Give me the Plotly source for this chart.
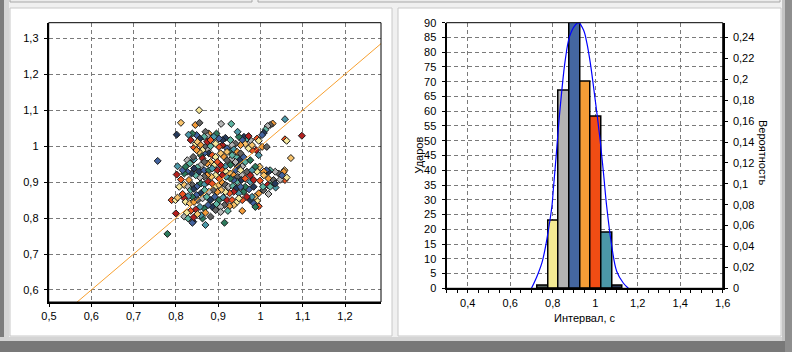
import plotly.graph_objects as go

W, H = 792, 352

# ---------------- data ----------------
# Poincare plot: RR(n) vs RR(n+1), seconds
RR_N = [0.855, 0.812, 0.846, 0.856, 0.907, 0.931, 0.802, 0.757, 0.780, 1.058,
        1.098, 1.058, 1.062, 1.072, 1.029, 1.023, 1.017, 1.012, 1.008, 1.004,
        0.915, 0.870, 0.800, 0.790, 0.799, 0.804, 0.957, 0.882, 0.820, 0.829,
        0.841, 0.839, 0.863, 0.859, 0.842, 1.058, 1.062, 1.057, 1.055, 1.043,
        1.035, 1.023, 1.019, 1.014, 1.027, 1.036, 1.017, 0.996, 0.992, 0.987,
        0.996, 1.007, 1.019, 1.006, 0.984, 0.973, 0.964, 0.976, 0.984, 0.999,
        0.992, 0.998, 1.008, 0.968, 0.957, 0.964, 0.946, 0.941, 0.976, 0.996,
        0.990, 0.980, 0.972, 0.980, 1.004, 1.015, 0.976, 0.968, 0.961, 0.957,
        0.949, 0.946, 0.972, 0.992, 0.996, 0.964, 0.953, 0.941, 0.933, 0.929,
        0.917, 0.921, 0.929, 0.937, 0.910, 0.902, 0.894, 0.886, 0.878, 0.870,
        0.874, 0.867, 0.857, 0.849, 0.839, 0.830, 0.835, 0.843, 0.847, 0.851,
        0.859, 0.870, 0.876, 0.882, 0.878, 0.867, 0.859, 0.843, 0.863, 0.886,
        0.894, 0.906, 0.914, 0.921, 0.933, 0.943, 0.951, 0.960, 0.929, 0.917,
        0.906, 0.898, 0.890, 0.882, 0.874, 0.867, 0.859, 0.851, 0.855, 0.867,
        0.878, 0.886, 0.898, 0.910, 0.919, 0.929, 0.937, 0.946, 0.957, 0.945,
        0.955, 0.937, 0.929, 0.919, 0.910, 0.902, 0.894, 0.884, 0.874, 0.867,
        0.857, 0.847, 0.837, 0.827, 0.820, 0.804, 0.802, 0.812, 0.808, 0.820,
        0.831, 0.839, 0.829, 0.835, 0.843, 0.851, 0.859, 0.868, 0.876, 0.886,
        0.894, 0.902, 0.910, 0.917, 0.925, 0.935, 0.943, 0.953, 0.960, 0.949,
        0.937, 0.927, 0.917, 0.907, 0.898, 0.888, 0.878, 0.868, 0.859, 0.849,
        0.839, 0.829, 0.820, 0.816, 0.823, 0.833, 0.843, 0.852, 0.863, 0.873,
        0.882, 0.892, 0.902, 0.912, 0.921, 0.933, 0.943, 0.937, 0.927, 0.915,
        0.906, 0.896, 0.886, 0.876, 0.867, 0.857, 0.847, 0.835, 0.826, 0.851,
        0.870, 0.894, 0.906, 0.923, 0.976, 0.984, 0.988, 0.980, 0.968, 0.957,
        0.949, 1.008, 1.019, 1.031, 1.047, 1.023, 1.035, 1.051, 0.988, 0.980,
        0.976, 0.964, 0.953, 0.921, 0.945, 0.953, 0.941, 0.933, 0.910, 0.902,
        0.896, 0.890, 0.874, 0.882, 0.863, 0.855, 0.849, 0.841, 0.827, 0.833,
        0.843, 0.816, 0.823]
RR_N1 = [1.100, 1.065, 1.059, 1.065, 1.062, 1.062, 1.032, 0.959, 0.756, 1.075,
         1.029, 1.019, 1.015, 0.967, 1.063, 1.059, 1.056, 1.046, 1.037, 1.031,
         0.787, 0.781, 0.813, 0.850, 0.850, 0.857, 0.820, 0.804, 0.804, 0.799,
         0.790, 0.787, 0.799, 0.808, 0.802, 0.906, 0.913, 0.933, 0.929, 0.924,
         0.929, 0.933, 0.929, 0.933, 0.894, 0.885, 0.892, 0.833, 0.848, 0.859,
         0.869, 0.878, 0.867, 0.887, 0.887, 0.880, 0.887, 0.901, 0.906, 0.904,
         0.929, 0.943, 0.929, 0.929, 0.944, 0.956, 0.944, 0.933, 0.961, 0.975,
         0.989, 0.989, 0.994, 1.003, 0.998, 0.998, 1.017, 1.021, 1.026, 1.017,
         1.026, 1.040, 1.028, 1.021, 1.015, 1.006, 1.003, 1.007, 1.003, 1.017,
         1.023, 0.994, 0.984, 0.991, 1.003, 0.998, 1.007, 1.021, 1.035, 1.040,
         1.028, 1.026, 1.021, 1.031, 1.035, 1.032, 1.017, 0.996, 1.007, 1.012,
         1.003, 0.998, 0.989, 1.000, 0.980, 0.980, 0.975, 0.963, 0.966, 0.975,
         0.970, 0.980, 0.970, 0.961, 0.966, 0.970, 0.961, 0.970, 0.948, 0.944,
         0.947, 0.956, 0.947, 0.956, 0.952, 0.956, 0.947, 0.941, 0.929, 0.933,
         0.933, 0.938, 0.933, 0.933, 0.929, 0.924, 0.919, 0.915, 0.919, 0.901,
         0.906, 0.906, 0.910, 0.915, 0.919, 0.910, 0.919, 0.915, 0.919, 0.915,
         0.913, 0.919, 0.924, 0.929, 0.924, 0.944, 0.921, 0.907, 0.887, 0.892,
         0.906, 0.892, 0.887, 0.878, 0.881, 0.889, 0.896, 0.894, 0.901, 0.896,
         0.887, 0.892, 0.898, 0.892, 0.887, 0.889, 0.883, 0.887, 0.873, 0.869,
         0.873, 0.869, 0.873, 0.878, 0.873, 0.878, 0.873, 0.878, 0.869, 0.864,
         0.859, 0.861, 0.855, 0.867, 0.845, 0.841, 0.845, 0.850, 0.855, 0.859,
         0.850, 0.859, 0.850, 0.857, 0.850, 0.850, 0.843, 0.836, 0.833, 0.836,
         0.831, 0.839, 0.831, 0.836, 0.827, 0.831, 0.824, 0.820, 0.815, 0.811,
         0.815, 0.822, 0.817, 0.820, 0.850, 0.841, 0.831, 0.859, 0.859, 0.850,
         0.855, 0.919, 0.910, 0.906, 0.907, 0.887, 0.896, 0.919, 0.943, 0.933,
         0.919, 0.910, 0.933, 0.984, 0.984, 0.980, 0.956, 0.975, 1.017, 1.021,
         1.035, 1.026, 1.012, 1.017, 0.989, 0.984, 0.989, 0.970, 0.961, 0.952,
         0.938, 0.933, 0.943]
IDENTITY = [0.45, 1.35]   # y = x reference line

# Histogram of intervals
BIN_CENTERS = [0.754, 0.804, 0.854, 0.904, 0.954, 1.004, 1.054, 1.104]
COUNTS = [1, 23, 67, 90, 70, 58, 19, 1]
# Fitted distribution curve (in beat-count units)
CURVE_X = [0.700, 0.726, 0.749, 0.765, 0.780, 0.796, 0.804, 0.816, 0.827, 0.843,
           0.859, 0.879, 0.906, 0.921, 0.945, 0.961, 0.977, 0.992, 1.008, 1.023,
           1.039, 1.054, 1.078, 1.101, 1.132, 1.156]
CURVE_Y = [0.0, 4.1, 8.6, 13.7, 19.9, 27.7, 34.5, 44.7, 54.8, 67.2,
           77.4, 85.3, 89.2, 90.0, 87.5, 83.0, 76.3, 68.3, 59.3, 50.3,
           39.0, 27.7, 14.2, 5.8, 1.8, 0.0]

# Tick labels
SC_XTICKS = [0.5, 0.6, 0.7, 0.8, 0.9, 1.0, 1.1, 1.2]
SC_XLABELS = ["0,5", "0,6", "0,7", "0,8", "0,9", "1", "1,1", "1,2"]
SC_YTICKS = [0.6, 0.7, 0.8, 0.9, 1.0, 1.1, 1.2, 1.3]
SC_YLABELS = ["0,6", "0,7", "0,8", "0,9", "1", "1,1", "1,2", "1,3"]
H_XTICKS = [0.4, 0.6, 0.8, 1.0, 1.2, 1.4, 1.6]
H_XLABELS = ["0,4", "0,6", "0,8", "1", "1,2", "1,4", "1,6"]
H_YTICKS = [0, 5, 10, 15, 20, 25, 30, 35, 40, 45, 50, 55, 60, 65, 70, 75, 80, 85, 90]
H_YLABELS = [str(v) for v in H_YTICKS]
P_TICKS = [0, 0.02, 0.04, 0.06, 0.08, 0.1, 0.12, 0.14, 0.16, 0.18, 0.2, 0.22, 0.24]
P_LABELS = ["0", "0,02", "0,04", "0,06", "0,08", "0,1", "0,12", "0,14", "0,16",
            "0,18", "0,2", "0,22", "0,24"]
P_RANGE = [0, 0.2543]
Y_TITLE_L = "Ударов"
Y_TITLE_R = "Вероятность"
X_TITLE = "Интервал, с"

# ---------------- style ----------------
PALETTE = ["#f5e79a", "#42629e", "#f29a38", "#4b98a8", "#b5b5b5", "#ee5522",
           "#25395a", "#f7c26b", "#2c7a5c", "#636363", "#b3201f", "#5eb4a2"]
BAR_COLORS = ["#56625f", "#f4ea93", "#b3b3b3", "#4466a0", "#f49d37", "#f04d14",
              "#4b98a8", "#2b3a55"]
FONT = "Liberation Sans"
GRID = dict(showgrid=True, gridcolor="#7a7a7a", gridwidth=1, griddash="4px,3px",
            zeroline=False, showline=True, linecolor="black", linewidth=2,
            ticks="outside", ticklen=3, tickcolor="black", tickwidth=1,
            automargin=False,
            tickfont=dict(family=FONT, size=11, color="black"))
XGRID = {**GRID, "ticklabelstandoff": 0}
YGRID = {**GRID, "ticklabelstandoff": 3}


def fx(p):
    return p / W


def fy(p):
    return 1 - p / H


fig = go.Figure()

fig.add_trace(go.Scatter(
    x=RR_N, y=RR_N1, mode="markers", xaxis="x", yaxis="y",
    marker=dict(symbol="diamond", size=5.4,
                color=[PALETTE[(i * 7) % len(PALETTE)] for i in range(len(RR_N))],
                line=dict(color="#1a1a1a", width=1)),
    showlegend=False, hoverinfo="skip"))
fig.add_trace(go.Scatter(
    x=IDENTITY, y=IDENTITY, mode="lines", xaxis="x", yaxis="y",
    line=dict(color="#f7a030", width=1), showlegend=False, hoverinfo="skip"))

fig.add_trace(go.Bar(
    x=BIN_CENTERS, y=COUNTS, xaxis="x2", yaxis="y2", width=0.05,
    marker=dict(color=BAR_COLORS, line=dict(color="black", width=1.5)),
    showlegend=False, hoverinfo="skip"))
fig.add_trace(go.Scatter(
    x=CURVE_X, y=CURVE_Y, mode="lines", xaxis="x2", yaxis="y2",
    line=dict(color="#0000ff", width=1.2, shape="spline"),
    showlegend=False, hoverinfo="skip"))
# invisible trace so the probability axis is rendered
fig.add_trace(go.Scatter(
    x=H_XTICKS[:1], y=P_RANGE[:1], mode="markers", xaxis="x2", yaxis="y3",
    marker=dict(opacity=0), showlegend=False, hoverinfo="skip"))

# --------------- chrome shapes ---------------
shapes = []


def rect(x0, y0, x1, y1, fill, line=None, layer="below"):
    shapes.append(dict(type="rect", xref="paper", yref="paper",
                       x0=fx(x0), x1=fx(x1), y0=fy(y1), y1=fy(y0),
                       fillcolor=fill, layer=layer,
                       line=dict(width=1 if line else 0, color=line or fill)))


rect(0, 0, 4, 352, "#7d7d7d")
rect(4, 0, 9, 340, "#d6d6d6")
rect(10, -2, 252, 2, "#ececec", "#a8a8a8")
rect(258, -2, 780, 2, "#ececec", "#a8a8a8")
rect(10, 8, 392, 336, "white", "#c8c8c8")
rect(398, 8, 781, 336, "white", "#c8c8c8")
rect(0, 337, 792, 341, "#d4d4d4")
rect(0, 341, 792, 352, "#787878")
rect(782, 0, 785, 341, "#c4c4c4")
rect(785, 0, 792, 352, "#8e8e8e")

# thin frame around the plot areas
for xr, yr in (("x domain", "y domain"), ("x2 domain", "y2 domain")):
    shapes.append(dict(type="rect", xref=xr, yref=yr, x0=0, x1=1, y0=0, y1=1,
                       line=dict(color="black", width=1), layer="above"))

fig.update_layout(
    width=W, height=H, margin=dict(l=0, r=0, t=0, b=0, pad=0, autoexpand=False),
    paper_bgcolor="#f0f0f0", plot_bgcolor="white",
    font=dict(family=FONT, size=11, color="black"),
    shapes=shapes, bargap=0,
    xaxis=dict(domain=[fx(48.7), fx(381)], range=[0.4993, 1.2851], anchor="y",
               tickvals=SC_XTICKS, ticktext=SC_XLABELS, **XGRID),
    yaxis=dict(domain=[fy(302), fy(22.7)], range=[0.5666, 1.3434], anchor="x",
               tickvals=SC_YTICKS, ticktext=SC_YLABELS, **YGRID),
    xaxis2=dict(domain=[fx(446.5), fx(722.7)], range=[0.3, 1.6], anchor="y2",
                tickvals=H_XTICKS, ticktext=H_XLABELS,
                minor=dict(dtick=0.05, tick0=0.3, ticks="outside", ticklen=3,
                           tickcolor="black", showgrid=False),
                **XGRID),
    yaxis2=dict(domain=[fy(288.3), fy(22.7)], range=[0, 90], anchor="x2",
                tickvals=H_YTICKS, ticktext=H_YLABELS, **YGRID),
    yaxis3=dict(overlaying="y2", side="right", anchor="x2", range=P_RANGE,
                tickvals=P_TICKS, ticktext=P_LABELS,
                **{**YGRID, "showgrid": False}),
    annotations=[
        dict(text=Y_TITLE_L, xref="paper", yref="paper", x=fx(418), y=fy(155.5),
             textangle=-90, showarrow=False, xanchor="center", yanchor="middle",
             font=dict(family=FONT, size=11)),
        dict(text=Y_TITLE_R, xref="paper", yref="paper", x=fx(763), y=fy(152),
             textangle=90, showarrow=False, xanchor="center", yanchor="middle",
             font=dict(family=FONT, size=11)),
        dict(text=X_TITLE, xref="paper", yref="paper", x=fx(585), y=fy(317.5),
             showarrow=False, xanchor="center", yanchor="middle",
             font=dict(family=FONT, size=11)),
    ],
)

fig.write_html("out.html")
